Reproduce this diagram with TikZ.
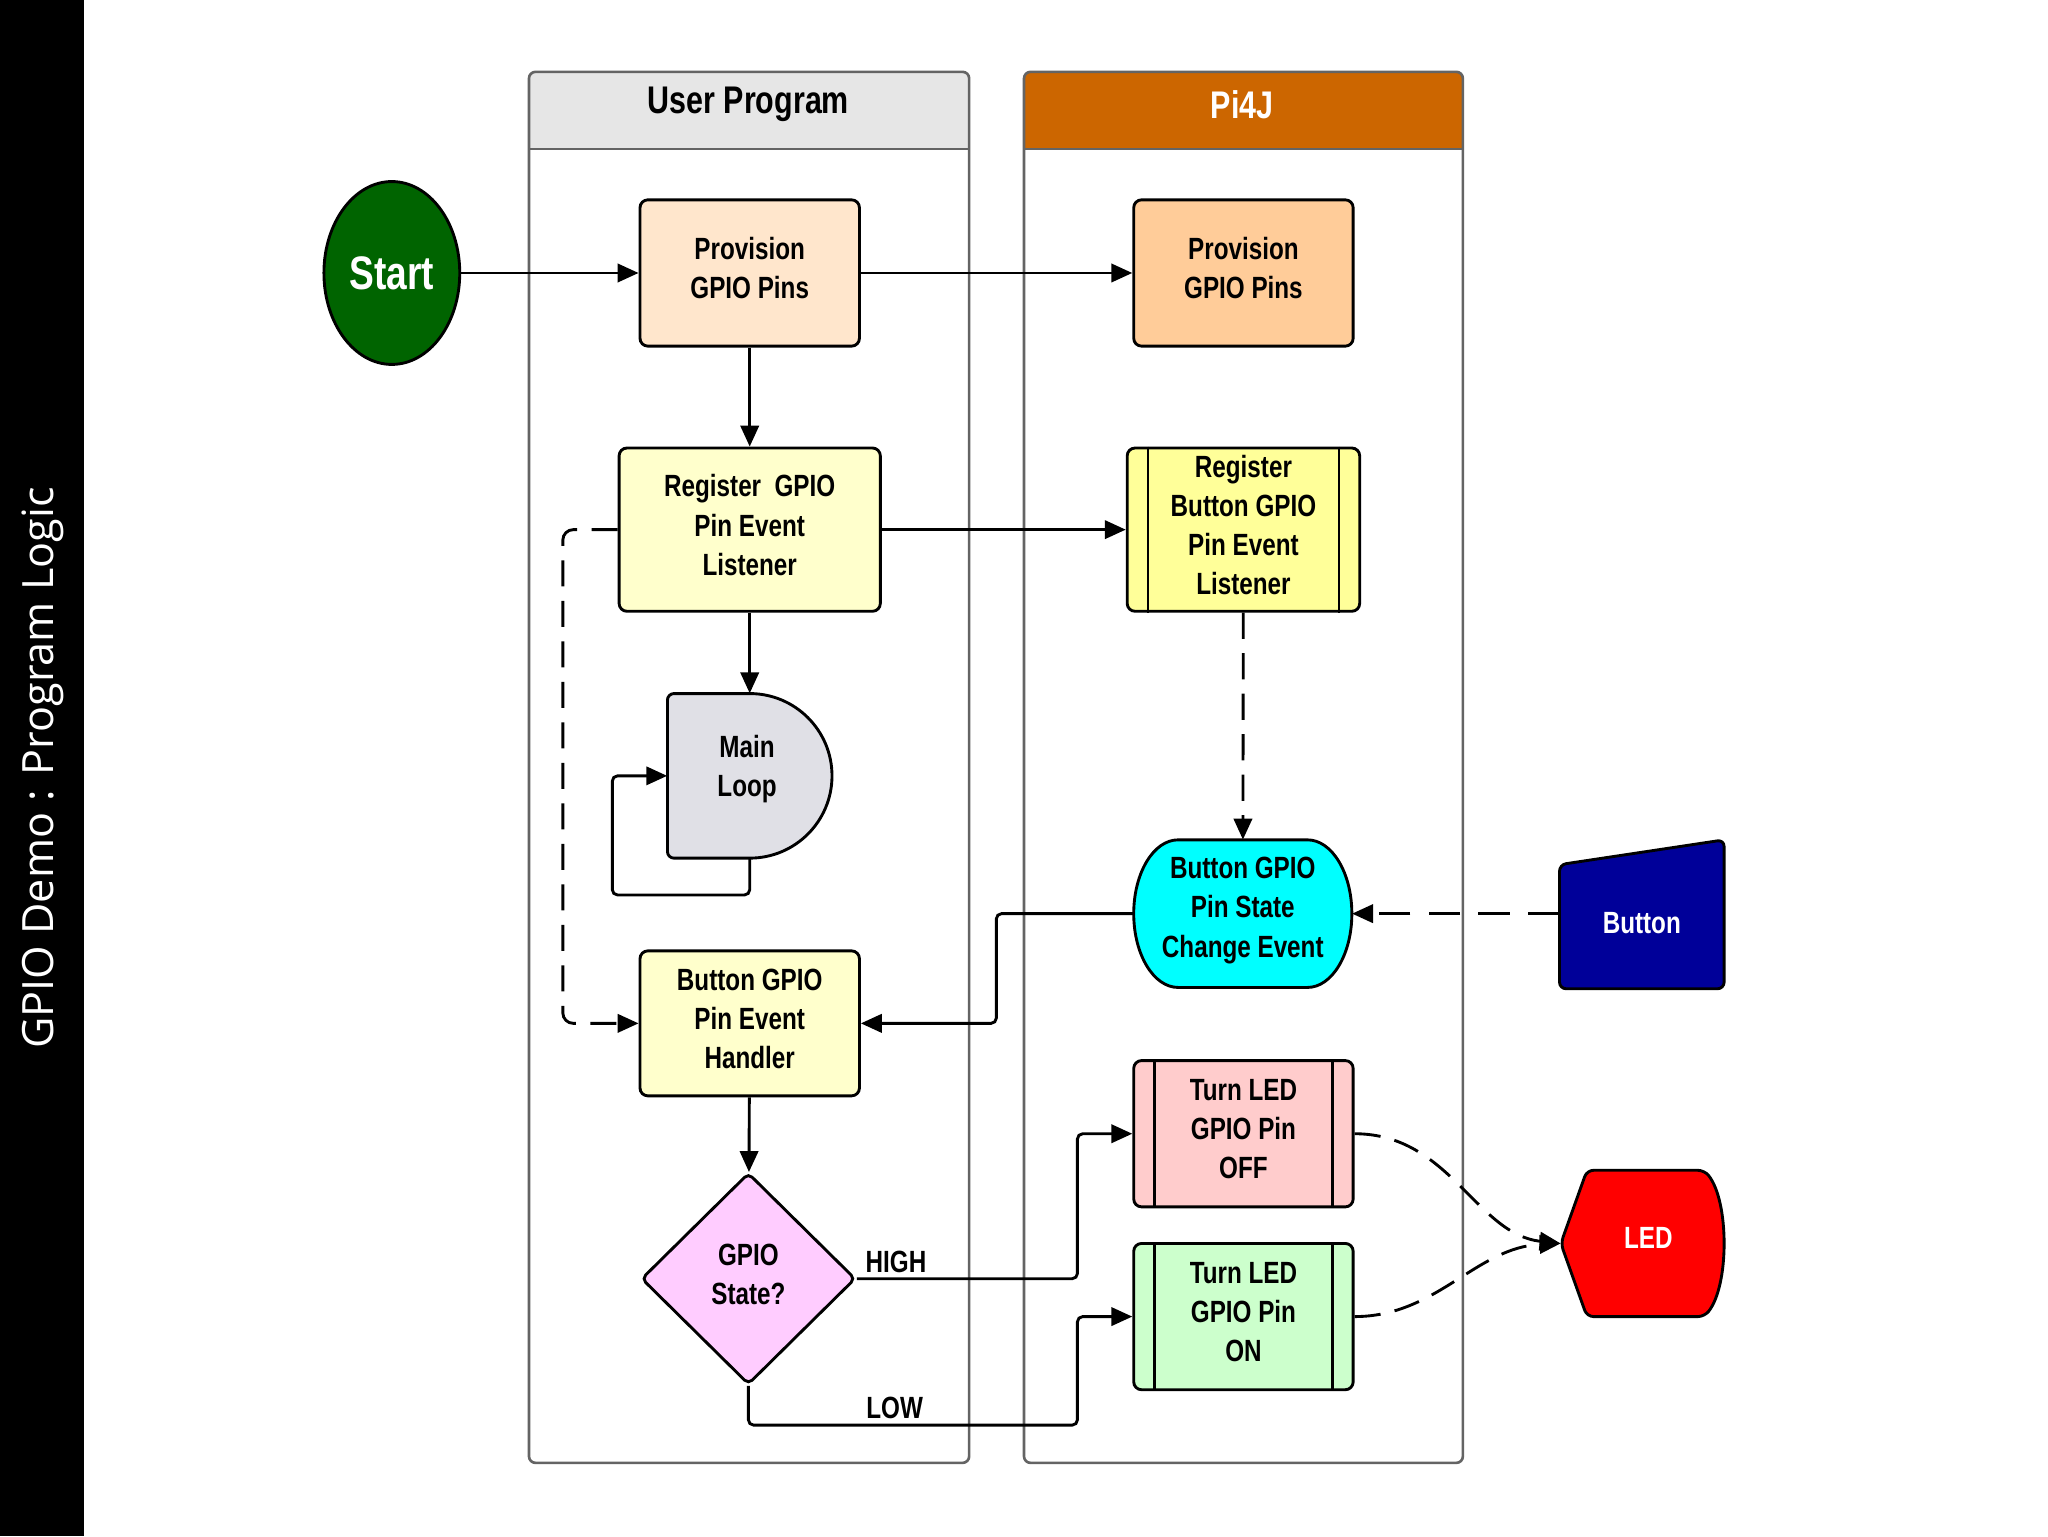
\documentclass[tikz,border=0pt]{standalone}
\usepackage{fontspec}
\newfontfamily\cf[FakeStretch=0.79]{Liberation Sans}
\newfontfamily\sidef{Open Sans}
\usetikzlibrary{arrows.meta,shapes.geometric,calc}
\definecolor{startgreen}{RGB}{0,100,0}
\definecolor{provA}{RGB}{255,230,204}
\definecolor{provB}{RGB}{255,204,153}
\definecolor{lightyel}{RGB}{255,255,204}
\definecolor{midyel}{RGB}{255,255,153}
\definecolor{loopgray}{RGB}{224,224,230}
\definecolor{diapink}{RGB}{255,204,255}
\definecolor{scecyan}{RGB}{0,255,255}
\definecolor{btnblue}{RGB}{0,0,153}
\definecolor{offpink}{RGB}{255,204,204}
\definecolor{ongreen}{RGB}{204,255,204}
\definecolor{ledred}{RGB}{255,0,0}
\definecolor{hdrgray}{RGB}{230,230,230}
\definecolor{hdrorange}{RGB}{204,102,0}
\definecolor{lanegray}{RGB}{100,100,100}
\newcommand{\bodyfont}{\cf\bfseries\fontsize{23.5}{30}\selectfont}
\newcommand{\hdrfont}{\cf\bfseries\fontsize{29.5}{32}\selectfont}
\begin{document}
\begin{tikzpicture}[x=1pt,y=-1pt,
  box/.style={draw=black, line width=2.2pt, rounded corners=6pt, inner sep=0pt},
  txt/.style={draw=none, align=center, font=\bodyfont, inner sep=0pt, yshift=3.5pt},
  ghost/.style={draw=none, inner sep=0pt},
  conn/.style={line width=2.2pt, -{Triangle[length=16pt,width=14pt]}},
  dconn/.style={conn, dash pattern=on 20pt off 11pt},
  lane/.style={draw=lanegray, line width=2pt, rounded corners=5pt}
]
\useasboundingbox (0,0) rectangle (1568,1176);
\fill[white] (0,0) rectangle (1568,1176);
\fill[black] (0,0) rectangle (64,1176);
\node[rotate=90, text=white, font=\sidef\fontsize{33}{33}\selectfont, inner sep=0pt] (side) at (33,588) {GPIO Demo : Program Logic};

% lanes
\begin{scope}
\clip[rounded corners=5pt] (405,55) rectangle (742,1120);
\fill[hdrgray] (405,55) rectangle (742,114);
\end{scope}
\begin{scope}
\clip[rounded corners=5pt] (784,55) rectangle (1120,1120);
\fill[hdrorange] (784,55) rectangle (1120,114);
\end{scope}
\draw[lane] (405,55) rectangle (742,1120);
\draw[lane] (784,55) rectangle (1120,1120);
\draw[draw=lanegray, line width=2pt] (405,114) -- (742,114);
\draw[draw=lanegray, line width=2pt] (784,114) -- (1120,114);
\node[font=\hdrfont, inner sep=0pt] (lane1) at (573,80) {User Program};
\node[font=\hdrfont, text=white, inner sep=0pt] (lane2) at (951,80) {Pi4J};

% nodes
\node[ellipse, draw=black, line width=2.2pt, fill=startgreen, minimum width=104pt, minimum height=140pt, inner sep=0pt, text=white, font=\cf\bfseries\fontsize{36}{40}\selectfont] (start) at (300,209) {Start};

\node[box, fill=provA, minimum width=168pt, minimum height=112pt] (prov1) at (574,209) {};
\node[txt] (prov1t) at (prov1) {Provision\\GPIO Pins};
\node[box, fill=provB, minimum width=168pt, minimum height=112pt] (prov2) at (952,209) {};
\node[txt] (prov2t) at (prov2) {Provision\\GPIO Pins};

\node[box, fill=lightyel, minimum width=200pt, minimum height=125pt] (reg1) at (574,405.5) {};
\node[txt] (reg1t) at (reg1) {Register\ \ GPIO\\Pin Event\\Listener};
\node[box, fill=midyel, minimum width=178pt, minimum height=125pt] (reg2) at (952,405.5) {};
\node[txt] (reg2t) at (reg2) {Register\\Button GPIO\\Pin Event\\Listener};
\draw[line width=2pt] ([xshift=17pt]reg2.north west) -- ([xshift=17pt]reg2.south west);
\draw[line width=2pt] ([xshift=-17pt]reg2.north east) -- ([xshift=-17pt]reg2.south east);

% main loop (delay shape)
\draw[line width=2.2pt, fill=loopgray] (574,531) arc[start angle=90, end angle=-90, radius=63pt] -- (516,657) to[out=180,in=270] (511,652) -- (511,536) to[out=90,in=180] (516,531) -- cycle;
\node[ghost, minimum width=126pt, minimum height=126pt] (loop) at (574,594) {};
\node[txt, yshift=-1.5pt] (loopt) at (572,591) {Main\\Loop};

\node[box, fill=lightyel, minimum width=168pt, minimum height=111pt] (hand) at (574,783.5) {};
\node[txt] (handt) at (hand) {Button GPIO\\Pin Event\\Handler};

\node[diamond, draw=black, line width=2.2pt, fill=diapink, minimum width=164pt, minimum height=162pt, inner sep=0pt, rounded corners=4pt] (dia) at (573,979) {};
\node[txt] (diat) at (dia) {GPIO\\State?};

% state change event
\draw[line width=2.2pt, fill=scecyan] (902,643) -- (1001,643) arc[start angle=90, end angle=-90, x radius=34pt, y radius=56.5pt] -- (902,756) arc[start angle=270, end angle=90, x radius=34pt, y radius=56.5pt] -- cycle;
\node[ghost, minimum width=167pt, minimum height=113pt] (sce) at (951.5,699.5) {};
\node[txt, yshift=-1pt] (scet) at (sce) {Button GPIO\\Pin State\\Change Event};

% button
\draw[line width=2.2pt, fill=btnblue, rounded corners=5pt] (1194,662) -- (1320,643) -- (1320,757) -- (1194,757) -- cycle;
\node[ghost, minimum width=126pt, minimum height=114pt] (btn) at (1257,705) {};
\node[txt, text=white, yshift=-5pt] (btnt) at (btn) {Button};

% turn LED off / on
\node[box, fill=offpink, minimum width=168pt, minimum height=112pt] (off) at (952,868) {};
\node[txt] (offt) at (off) {Turn LED\\GPIO Pin\\OFF};
\draw[line width=2pt] ([xshift=17pt]off.north west) -- ([xshift=17pt]off.south west);
\draw[line width=2pt] ([xshift=-17pt]off.north east) -- ([xshift=-17pt]off.south east);
\node[box, fill=ongreen, minimum width=168pt, minimum height=112pt] (on) at (952,1008) {};
\node[txt] (ont) at (on) {Turn LED\\GPIO Pin\\ON};
\draw[line width=2pt] ([xshift=17pt]on.north west) -- ([xshift=17pt]on.south west);
\draw[line width=2pt] ([xshift=-17pt]on.north east) -- ([xshift=-17pt]on.south east);

% LED display shape
\draw[line width=2.2pt, fill=ledred, rounded corners=5pt] (1195,952) -- (1215,896) -- (1305,896) .. controls (1324,920) and (1324,984) .. (1305,1008) -- (1215,1008) -- cycle;
\node[ghost, minimum width=125pt, minimum height=112pt] (led) at (1257.5,952) {};
\node[txt, text=white, yshift=-3.5pt] (ledt) at (1262,948) {LED};

% connectors
\draw[conn] (start) -- (prov1);
\draw[conn] (prov1) -- (prov2);
\draw[conn] (prov1) -- (reg1);
\draw[conn] (reg1) -- (reg2);
\draw[conn] (reg1) -- (loop);
\draw[conn, rounded corners=4pt] (loop.south) -- ++(0,28) -| ($(loop.west)+(-42,0)$) -- (loop.west);
\draw[dconn, rounded corners=8pt] (reg1.west) -- ++(-42,0) |- (hand.west);
\draw[dconn] (reg2) -- (sce);
\draw[conn, dash pattern=on 24pt off 14pt] (sce.east -| btn.west) -- (sce.east);
\draw[conn, rounded corners=4pt] (sce.west) -- ++(-105,0) |- (hand.east);
\draw[conn] (hand) -- (dia);
\draw[conn, rounded corners=4pt] (dia.east) -| ($(off.west)+(-42,0)$) -- (off.west);
\draw[conn, rounded corners=4pt] (dia.south) -- ++(0,30) -| ($(on.west)+(-42,0)$) -- (on.west);
\draw[dconn] (off.east) .. controls (1110,868) and (1130,945) .. (led.west);
\draw[dconn] (on.east) .. controls (1100,1008) and (1130,955) .. (led.west);

\node[txt, yshift=-3.5pt] (high) at (686,966) {HIGH};
\node[txt, yshift=-3.5pt] (low) at (685,1078) {LOW};
\end{tikzpicture}
\end{document}
